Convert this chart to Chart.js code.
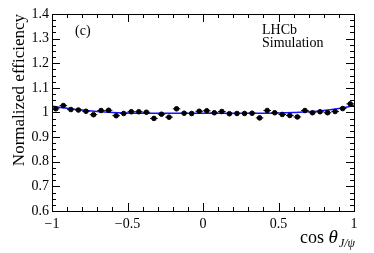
<!DOCTYPE html>
<html>
<head>
<meta charset="utf-8">
<script src="https://cdn.jsdelivr.net/npm/chart.js@4.4.1/dist/chart.umd.min.js"></script>
<style>
  html, body { margin: 0; padding: 0; background: #fff; }
  #wrap { width: 374px; height: 253px; }
</style>
</head>
<body>
<div id="wrap"><canvas id="effChart" width="374" height="253"></canvas></div>
<script>
// bin centres of cos(theta_J/psi), 40 bins of width 0.05
const binCentres = [
  -0.975, -0.925, -0.875, -0.825, -0.775, -0.725, -0.675, -0.625, -0.575, -0.525,
  -0.475, -0.425, -0.375, -0.325, -0.275, -0.225, -0.175, -0.125, -0.075, -0.025,
   0.025,  0.075,  0.125,  0.175,  0.225,  0.275,  0.325,  0.375,  0.425,  0.475,
   0.525,  0.575,  0.625,  0.675,  0.725,  0.775,  0.825,  0.875,  0.925,  0.975
];
const efficiency = [
  1.015, 1.028, 1.012, 1.010, 1.005, 0.991, 1.008, 1.009, 0.987, 0.996,
  1.003, 1.003, 1.001, 0.976, 0.993, 0.981, 1.015, 0.997, 0.996, 1.005,
  1.007, 0.999, 1.004, 0.995, 0.996, 0.996, 0.997, 0.978, 1.008, 0.999,
  0.992, 0.988, 0.982, 1.008, 0.999, 1.003, 0.999, 1.004, 1.016, 1.035
];
const effError = 0.006;
const binHalfWidth = 0.025;

// fitted curve
const fitX = [-1, -0.9, -0.8, -0.7, -0.6, -0.5, -0.4, -0.3, -0.2, -0.1, 0,
              0.1, 0.2, 0.3, 0.4, 0.5, 0.6, 0.7, 0.8, 0.9, 1];
const fitY = [1.025, 1.017, 1.010, 1.004, 1.000, 0.998, 0.997, 0.997, 0.997, 0.997, 0.997,
              0.997, 0.997, 0.997, 0.997, 0.998, 1.000, 1.003, 1.008, 1.016, 1.028];

const xTickLabels = { '-1': '\u22121', '-0.5': '\u22120.5', '0': '0', '0.5': '0.5', '1': '1' };

const serif = '"Liberation Serif", "DejaVu Serif", serif';

// ROOT-like frame with inside ticks on all sides, error bars and text
const framePlugin = {
  id: 'frame',
  beforeDatasetsDraw(chart) {
    const ctx = chart.ctx;
    const xs = chart.scales.x, ys = chart.scales.y;
    ctx.save();
    ctx.strokeStyle = '#000';
    ctx.lineWidth = 1;
    binCentres.forEach((c, i) => {
      const px = xs.getPixelForValue(c);
      const py = ys.getPixelForValue(efficiency[i]);
      ctx.beginPath();
      ctx.moveTo(xs.getPixelForValue(c - binHalfWidth), py);
      ctx.lineTo(xs.getPixelForValue(c + binHalfWidth), py);
      ctx.moveTo(px, ys.getPixelForValue(efficiency[i] - effError));
      ctx.lineTo(px, ys.getPixelForValue(efficiency[i] + effError));
      ctx.stroke();
    });
    ctx.restore();
  },
  afterDraw(chart) {
    const ctx = chart.ctx;
    const a = chart.chartArea;
    const xs = chart.scales.x, ys = chart.scales.y;
    ctx.save();
    ctx.strokeStyle = '#000';
    ctx.lineWidth = 1;
    ctx.strokeRect(a.left + 0.5, a.top + 0.5, a.right - a.left, a.bottom - a.top);
    ctx.beginPath();
    for (let k = 0; k <= 20; k++) {
      const v = -1 + k * 0.1;
      const px = Math.round(xs.getPixelForValue(v)) + 0.5;
      const len = (k % 5 === 0) ? 8 : 4;
      ctx.moveTo(px, a.bottom); ctx.lineTo(px, a.bottom - len);
      ctx.moveTo(px, a.top); ctx.lineTo(px, a.top + len);
    }
    for (let k = 0; k <= 32; k++) {
      const v = 0.6 + k * 0.025;
      const py = Math.round(ys.getPixelForValue(v)) + 0.5;
      const len = (k % 4 === 0) ? 8 : 4;
      ctx.moveTo(a.left, py); ctx.lineTo(a.left + len, py);
      ctx.moveTo(a.right, py); ctx.lineTo(a.right - len, py);
    }
    ctx.stroke();

    ctx.fillStyle = '#000';
    ctx.textBaseline = 'alphabetic';
    ctx.font = '14px ' + serif;
    ctx.textAlign = 'left';
    ctx.fillText('(c)', 75, 35);
    ctx.font = '14px ' + serif;
    ctx.fillText('LHCb', 262, 34);
    ctx.fillText('Simulation', 262, 47);

    // y title
    ctx.save();
    ctx.translate(24, a.top);
    ctx.rotate(-Math.PI / 2);
    ctx.font = '17px ' + serif;
    ctx.textAlign = 'right';
    ctx.fillText('Normalized efficiency', 0, 0);
    ctx.restore();

    // x title: cos θ_{J/ψ}
    ctx.textAlign = 'left';
    const sub = 'J/\u03c8';
    ctx.font = 'italic 12px ' + serif;
    const wSub = ctx.measureText(sub).width;
    ctx.font = 'italic 19px ' + serif;
    const wTh = ctx.measureText('\u03b8').width;
    ctx.font = '18px ' + serif;
    const wCos = ctx.measureText('cos ').width;
    let x0 = a.right + 1 - wSub - wTh - wCos - 1;
    ctx.fillText('cos ', x0, 243);
    ctx.font = 'italic 19px ' + serif;
    ctx.fillText('\u03b8', x0 + wCos, 243);
    ctx.font = 'italic 12px ' + serif;
    ctx.fillText(sub, x0 + wCos + wTh + 1, 247);
    ctx.restore();
  }
};

new Chart(document.getElementById('effChart'), {
  type: 'scatter',
  data: {
    datasets: [
      {
        label: 'fit',
        type: 'line',
        data: fitX.map((x, i) => ({ x: x, y: fitY[i] })),
        borderColor: 'rgb(20,20,255)',
        borderWidth: 1.5,
        pointRadius: 0,
        tension: 0.4,
        fill: false,
        order: 2
      },
      {
        label: 'efficiency',
        data: binCentres.map((x, i) => ({ x: x, y: efficiency[i] })),
        backgroundColor: '#000',
        borderColor: '#000',
        pointRadius: 2.3,
        pointStyle: 'circle',
        order: 1
      }
    ]
  },
  options: {
    responsive: false,
    animation: false,
    devicePixelRatio: 1,
    layout: { padding: { top: 14, right: 20, left: 0, bottom: 0 } },
    plugins: { legend: { display: false }, tooltip: { enabled: false } },
    scales: {
      x: {
        type: 'linear',
        min: -1, max: 1,
        grid: { display: false, drawTicks: false },
        border: { display: false },
        afterFit: s => { s.height = 42; },
        afterBuildTicks: s => { s.ticks = [-1, -0.5, 0, 0.5, 1].map(v => ({ value: v })); },
        ticks: {
          padding: 5,
          maxRotation: 0,
          color: '#000',
          font: { family: serif, size: 14 },
          callback: v => xTickLabels[String(v)]
        }
      },
      y: {
        type: 'linear',
        min: 0.6, max: 1.4,
        grid: { display: false, drawTicks: false },
        border: { display: false },
        afterFit: s => { s.width = 52; },
        afterBuildTicks: s => { s.ticks = [0.6, 0.7, 0.8, 0.9, 1, 1.1, 1.2, 1.3, 1.4].map(v => ({ value: v })); },
        ticks: {
          padding: 3,
          color: '#000',
          font: { family: serif, size: 14 },
          callback: v => String(Number(v.toFixed(2)))
        }
      }
    }
  },
  plugins: [framePlugin]
});
</script>
</body>
</html>
